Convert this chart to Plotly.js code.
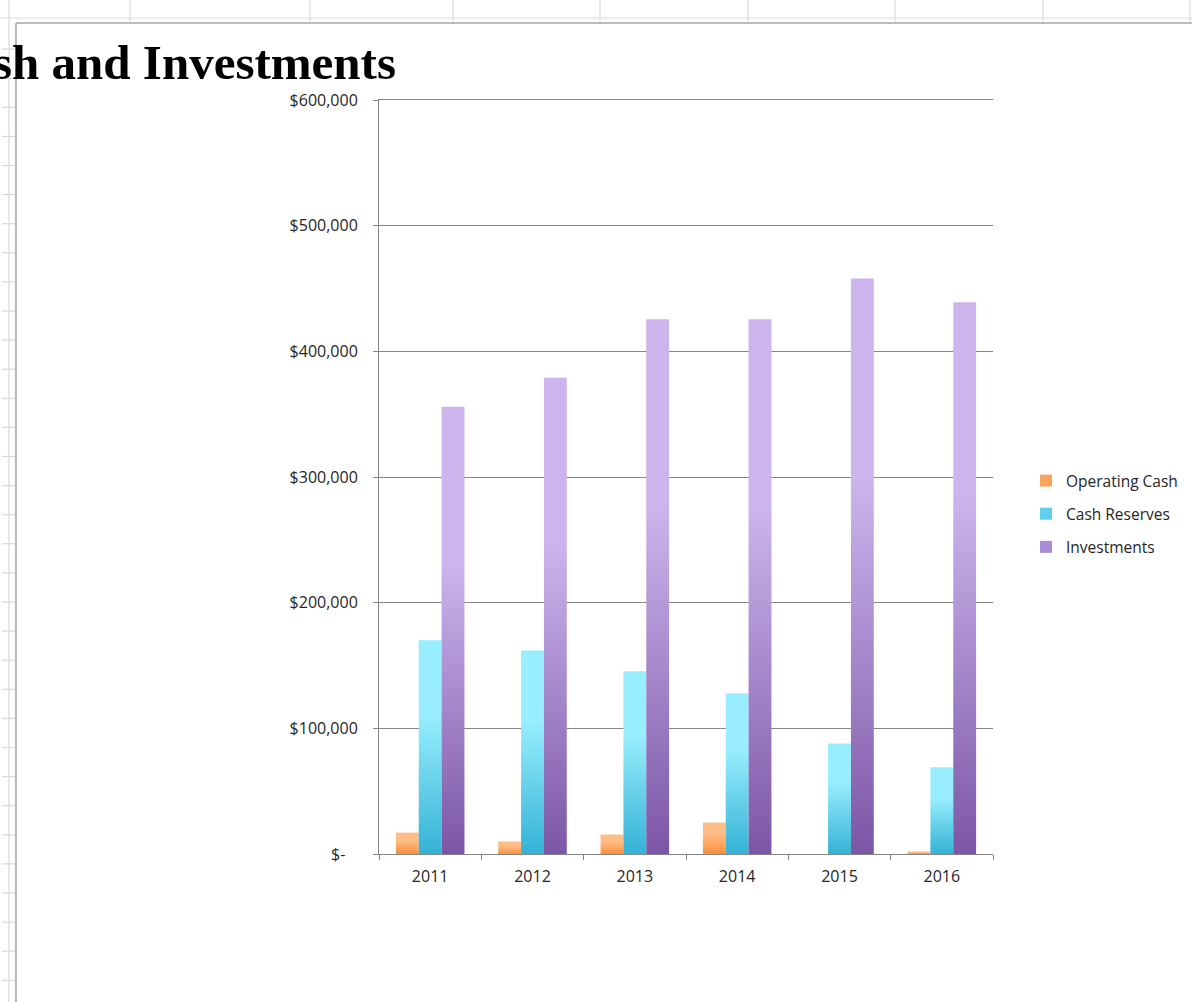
<!DOCTYPE html>
<html>
<head>
<meta charset="utf-8">
<script src="https://cdn.plot.ly/plotly-3.0.1.min.js"></script>
<style>
  html, body { margin: 0; padding: 0; background: #ffffff; }
  #chart { width: 1192px; height: 1002px; }
</style>
</head>
<body>
<div id="chart"></div>
<script>
// ---- data ----
const years = ['2011', '2012', '2013', '2014', '2015', '2016'];
const operatingCash = [17000, 10000, 15500, 25000, 0, 2000];
const cashReserves = [170000, 162000, 145500, 128000, 88000, 69000];
const investments = [356000, 379000, 425500, 425500, 458000, 439000];
const seriesNames = ['Operating Cash', 'Cash Reserves', 'Investments'];
const yTickVals = [0, 100000, 200000, 300000, 400000, 500000, 600000];
const yTickText = ['$-\u00a0\u00a0\u00a0', '$100,000', '$200,000', '$300,000', '$400,000', '$500,000', '$600,000'];

// ---- layout geometry (pixels) ----
const W = 1192, H = 1002;
const PL = 379, PR = 993, PT = 100, PB = 854;
const px = x => (x - PL) / (PR - PL);
const py = y => (PB - y) / (PB - PT);

// spreadsheet background decoration
const shapes = [];
const sheetLine = '#d9d9d9';
function line(x0, y0, x1, y1, color, width) {
  shapes.push({type: 'line', xref: 'paper', yref: 'paper', layer: 'below',
    x0: px(x0), y0: py(y0), x1: px(x1), y1: py(y1),
    line: {color: color, width: width}});
}
line(0, 18, W, 18, sheetLine, 1.2);
[130, 310, 453, 600, 748, 895, 1043, 1190].forEach(x => line(x, 0, x, 22, sheetLine, 1.2));
line(9, 0, 9, H, sheetLine, 1.2);
for (let y = 49.1; y < H; y += 29.1) line(2, y, 16, y, sheetLine, 1.2);
// chart border
line(16, 23, 16, H, '#a6a6a6', 1.6);
line(16, 23, W, 23, '#a6a6a6', 1.6);

const solid = ['#f9a35c', '#5fd0ec', '#a98cd6'];
const grads = [
  ['#ffbe88', '#f7903a'],
  ['#98eefd', '#34b2d6'],
  ['#cbb5ec', '#7c56a6']
];
const values = [operatingCash, cashReserves, investments];

const traces = values.map((v, i) => ({
  type: 'bar', x: years, y: v, name: seriesNames[i],
  legendgroup: 'g' + i,
  marker: {color: solid[i], line: {width: 0}},
  hoverinfo: 'skip'
}));

const tickFont = {family: 'Open Sans, sans-serif', size: 16, color: '#262626'};

const layout = {
  width: W, height: H,
  margin: {l: PL, r: W - PR, t: PT, b: H - PB, pad: 0, autoexpand: false},
  paper_bgcolor: '#ffffff', plot_bgcolor: 'rgba(0,0,0,0)',
  barmode: 'group', bargap: 0.33, bargroupgap: 0,
  showlegend: true,
  title: {
    text: 'Cash and Investments',
    font: {family: 'Liberation Serif, serif', size: 49, color: '#000000', weight: 'bold'},
    xref: 'container', yref: 'container',
    x: 396 / W, xanchor: 'right',
    y: 1 - 62 / H, yanchor: 'middle'
  },
  xaxis: {
    type: 'category', tickson: 'boundaries',
    ticks: 'outside', ticklen: 5, tickcolor: '#868686', tickwidth: 1,
    showline: true, linecolor: '#868686', linewidth: 1, mirror: true,
    showgrid: false, zeroline: false,
    tickfont: tickFont, ticklabelstandoff: 8
  },
  yaxis: {
    range: [0, 600000], tickvals: yTickVals, ticktext: yTickText,
    ticks: 'outside', ticklen: 5, tickcolor: '#868686', tickwidth: 1,
    showline: true, linecolor: '#868686', linewidth: 1,
    showgrid: true, gridcolor: '#868686', gridwidth: 1,
    zeroline: false, fixedrange: true,
    tickfont: tickFont, ticklabelstandoff: 12
  },
  legend: {
    x: px(1026), xanchor: 'left', y: py(514), yanchor: 'middle',
    font: {family: 'Open Sans, sans-serif', size: 15.5, color: '#262626'},
    tracegroupgap: 10, traceorder: 'grouped', itemwidth: 30,
    bgcolor: 'rgba(0,0,0,0)', borderwidth: 0
  },
  shapes: shapes
};

function applyGradients(gd) {
  const svg = gd.querySelector('.main-svg');
  if (!svg) return;
  let defs = svg.querySelector('defs');
  if (!defs) { defs = document.createElementNS('http://www.w3.org/2000/svg', 'defs'); svg.insertBefore(defs, svg.firstChild); }
  grads.forEach((g, i) => {
    const id = 'barGrad' + i;
    if (!defs.querySelector('#' + id)) {
      const lg = document.createElementNS('http://www.w3.org/2000/svg', 'linearGradient');
      lg.setAttribute('id', id);
      lg.setAttribute('x1', '0'); lg.setAttribute('y1', '0');
      lg.setAttribute('x2', '0'); lg.setAttribute('y2', '1');
      [[0, g[0]], [0.35, g[0]], [1, g[1]]].forEach(s => {
        const st = document.createElementNS('http://www.w3.org/2000/svg', 'stop');
        st.setAttribute('offset', s[0]);
        st.setAttribute('stop-color', s[1]);
        lg.appendChild(st);
      });
      defs.appendChild(lg);
    }
  });
  const barTraces = gd.querySelectorAll('.barlayer .trace');
  barTraces.forEach((t, i) => {
    t.querySelectorAll('.point path').forEach(p => { p.style.fill = 'url(#barGrad' + i + ')'; });
  });
}

const gd = document.getElementById('chart');
Plotly.newPlot(gd, traces, layout, {staticPlot: true, displayModeBar: false}).then(() => {
  applyGradients(gd);
  gd.on('plotly_afterplot', () => applyGradients(gd));
});
</script>
</body>
</html>
